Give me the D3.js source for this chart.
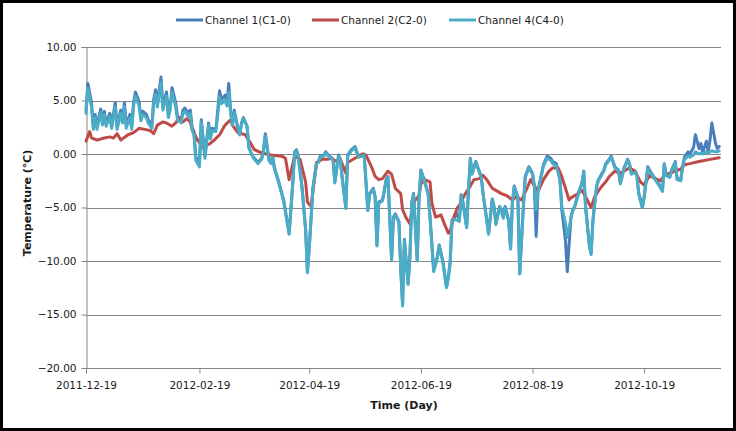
<!DOCTYPE html>
<html>
<head>
<meta charset="utf-8">
<script src="https://cdn.jsdelivr.net/npm/d3@7"></script>
<style>
  body { margin: 0; background: #fff; }
  svg { display: block; font-family: "DejaVu Sans", sans-serif; }
</style>
</head>
<body>
<svg id="chart" width="736" height="431"></svg>
<script>
// days counted from the first date, 2011-12-19
var startDate = "2011-12-19",
    endDate = "2012-11-30";

var seriesNames = ["Channel 1(C1-0)", "Channel 2(C2-0)", "Channel 4(C4-0)"];

var dayBlue = [0,1,3,4,5,6,8,9,10,11,13,14,16,17,19,20,21,22,24,25,26,27,29,30,31,33,34,36,37,38,39,41,42,44,45,46,47,49,50,52,53,54,56,57,58,59,
  60,62,63,65,67,68,69,71,73,74,76,77,78,79,80,81,83,84,85,86,88,89,91,92,94,96,97,98,100,101,102,103,105,108,111,113,114,115,116,118,
  120,121,122,124,126,127,128,130,131,132,133,135,136,138,139,140,142,143,145,147,148,149,151,152,154,155,157,158,159,160,162,163,164,165,
  167,168,169,171,172,173,174,176,177,178,179,181,182,183,185,187,188,189,190,192,193,195,197,198,199,200,201,203,204,205,206,208,209,
  210,211,212,213,214,216,217,218,220,222,223,224,226,227,228,229,231,232,233,234,236,237,239,240,242,244,245,246,247,249,250,252,254,
  255,257,259,260,262,263,265,266,267,269,271,272,273,275,276,277,279,280,281,283,284,285,287,288,289,291,292,294,296,297,298,300,301,
  302,304,305,307,309,311,313,315,316,317,319,320,322,323,325,326,327,329,330,332,333,335,336,337,339,340,341,342,344,345,346];

var channel1 = [4.1,6.6,4.8,2.6,3.7,2.6,4.2,3.0,4.0,2.9,3.8,2.7,4.8,2.6,4.1,3.2,4.8,2.7,3.7,2.6,4.8,5.8,4.9,3.4,4.0,3.7,3.2,2.7,5.1,6.0,4.8,7.2,4.4,5.8,3.7,4.4,6.2,4.8,3.5,3.2,4.1,4.3,3.8,4.1,2.5,2.1,
  -0.3,-0.8,3.2,-0.2,2.9,1.6,2.4,2.3,5.9,5.1,5.5,4.8,6.6,4.1,2.7,4.1,2.4,1.8,2.9,3.4,2.6,0.6,-0.2,-0.4,-0.8,-0.4,0.4,1.9,-0.5,-0.8,-0.2,-1.3,-2.4,-4.3,-7.4,-2.7,0.2,0.4,-0.2,-3.0,
  -7.0,-11.0,-8.7,-3.2,-0.8,-0.7,-0.2,-0.1,0.2,0.0,-0.2,-0.5,-2.6,-0.1,-0.5,-2.2,-5.0,-0.1,0.4,0.7,0.2,-0.2,-0.1,0.0,-5.2,-3.7,-3.2,-4.0,-8.5,-4.5,-4.3,-3.4,-2.4,-2.1,
  -9.8,-5.9,-5.6,-6.3,-10.7,-14.1,-8.0,-12.1,-9.6,-4.5,-3.7,-9.9,-4.0,-1.5,-2.5,-3.7,-5.9,-8.4,-10.9,-9.6,-8.5,-10.0,-12.4,-11.5,-10.1,-6.2,-6.0,-5.6,-6.2,-3.8,-4.5,-6.8,-3.4,
  -0.4,-1.8,-1.2,-0.7,-1.2,-2.1,-3.7,-4.9,-7.4,-4.2,-4.9,-6.5,-4.9,-5.2,-5.9,-4.9,-6.2,-8.8,-4.5,-3.0,-4.0,-11.2,-4.9,-2.1,-1.2,-1.8,-3.0,-7.7,-3.4,-1.8,-1.0,-0.2,-0.4,
  -0.7,-0.9,-2.4,-5.2,-8.1,-11.0,-5.9,-5.2,-4.9,-3.7,-2.7,-1.6,-4.9,-8.4,-9.3,-6.2,-3.0,-2.4,-2.1,-1.5,-0.9,-0.7,-0.2,-0.7,-1.2,-1.5,-2.7,-1.3,-0.5,-0.9,-1.8,-1.6,-1.9,
  -3.6,-5.0,-4.0,-1.2,-1.8,-2.3,-2.8,-3.4,-0.9,-1.9,-2.1,-1.5,-0.7,-2.3,-2.4,-1.2,-0.3,0.2,0.0,0.6,1.8,0.5,1.0,0.1,1.2,0.2,1.3,2.9,1.0,0.5,0.7];

var channel4 = [3.8,6.1,4.4,2.3,3.4,2.3,3.9,2.7,3.7,2.6,3.5,2.4,4.4,2.3,3.8,2.9,4.4,2.4,3.4,2.3,4.5,5.4,4.5,3.1,3.7,3.4,2.9,2.4,4.7,5.6,4.4,6.7,4.1,5.4,3.4,4.1,5.8,4.4,3.2,2.9,3.8,4.0,3.5,3.8,2.2,1.8,
  -0.6,-1.2,3.0,-0.4,2.7,1.4,2.2,2.1,5.3,4.7,5.0,4.5,5.8,3.9,2.7,3.9,2.4,1.8,2.8,3.3,2.6,0.6,-0.2,-0.5,-0.9,-0.5,0.3,1.7,-0.6,-0.9,-0.3,-1.4,-2.5,-4.4,-7.5,-2.8,0.1,0.3,-0.3,-3.1,
  -7.1,-11.1,-8.8,-3.3,-0.9,-0.8,-0.3,-0.2,0.1,-0.1,-0.3,-0.6,-2.7,-0.2,-0.6,-2.3,-5.1,-0.2,0.3,0.6,0.1,-0.3,-0.2,-0.1,-5.3,-3.8,-3.3,-4.1,-8.6,-4.6,-4.4,-3.5,-2.5,-2.2,
  -9.9,-6.0,-5.7,-6.4,-10.8,-14.2,-8.1,-12.2,-9.7,-4.6,-3.8,-10.0,-4.1,-1.6,-2.6,-3.8,-6.0,-8.5,-11.0,-9.7,-8.6,-10.1,-12.5,-11.6,-10.2,-6.3,-6.1,-6.2,-6.3,-3.9,-4.6,-6.9,-3.5,
  -0.5,-1.9,-1.3,-0.8,-1.3,-2.2,-3.8,-5.0,-7.5,-4.3,-5.0,-6.6,-5.0,-5.3,-6.0,-5.0,-6.3,-8.9,-4.6,-3.1,-4.1,-11.2,-5.0,-2.2,-1.3,-1.9,-3.0,-5.2,-3.5,-1.9,-1.1,-0.4,-0.6,
  -0.9,-1.1,-2.4,-4.9,-6.5,-7.8,-6.0,-5.3,-5.0,-3.8,-2.8,-1.7,-5.0,-8.5,-9.4,-6.3,-3.1,-2.5,-2.2,-1.6,-1.0,-0.8,-0.3,-0.8,-1.3,-1.6,-2.8,-1.4,-0.6,-1.0,-1.9,-1.7,-2.0,
  -3.7,-5.0,-4.1,-1.3,-1.9,-2.4,-2.9,-3.5,-1.0,-2.0,-2.2,-1.6,-0.8,-2.4,-2.5,-1.3,-0.5,-0.2,-0.3,-0.1,0.2,0.0,0.1,0.0,0.2,0.1,0.2,0.3,0.2,0.2,0.3];

var dayRed = [0,2,3,6,10,13,15,17,19,23,26,29,32,35,37,39,42,44,47,49,51,53,55,57,58,61,64,68,70,73,76,79,80,83,87,90,92,96,101,107,109,111,114,117,
  120,121,123,124,126,129,132,134,137,139,142,143,147,151,153,156,158,160,162,165,167,169,172,173,175,177,179,182,183,185,188,189,191,194,196,198,199,
  201,203,204,207,210,212,215,217,219,222,224,227,230,233,235,238,241,243,247,250,253,255,258,260,262,264,265,268,271,273,276,278,281,284,286,289,
  292,295,297,300,303,305,308,311,314,316,319,322,325,327,330,335,341,346];

var channel2 = [1.2,2.1,1.5,1.3,1.5,1.6,1.5,1.9,1.3,1.8,2.0,2.4,2.3,2.2,1.9,2.7,3.0,2.9,2.6,2.9,3.4,3.0,3.3,3.0,2.3,1.3,0.6,1.0,1.3,1.8,2.7,3.2,2.7,2.0,1.8,1.0,0.4,0.1,-0.1,-0.2,-0.4,-2.4,-0.2,-0.5,
  -2.6,-4.5,-4.9,-3.5,-0.8,-0.5,-0.5,-0.4,-0.7,-0.5,-1.8,-0.8,-0.4,0.0,-0.1,-1.2,-2.1,-2.4,-2.3,-1.6,-1.9,-3.2,-3.7,-5.2,-6.0,-6.5,-4.5,-3.9,-2.8,-2.4,-2.6,-4.6,-5.9,-5.7,-6.6,-7.4,-7.2,
  -5.9,-5.0,-4.8,-3.8,-3.0,-2.4,-2.3,-2.0,-2.4,-3.2,-3.4,-3.7,-3.9,-4.3,-4.0,-4.3,-3.2,-2.4,-3.5,-2.4,-1.6,-1.3,-1.3,-2.1,-3.2,-4.3,-4.1,-3.8,-3.4,-4.0,-5.0,-4.0,-3.2,-2.6,-2.1,-1.6,
  -1.8,-1.5,-1.3,-1.6,-2.6,-2.9,-2.0,-2.3,-2.5,-2.0,-1.8,-1.6,-1.4,-1.0,-0.9,-0.7,-0.5,-0.35];

var yTicks = [10, 5, 0, -5, -10, -15, -20];
var xTicks = ["2011-12-19", "2012-02-19", "2012-04-19", "2012-06-19", "2012-08-19", "2012-10-19"];

var colors = ["#4a7ebb", "#be4b48", "#4bacc6"];

var parse = d3.timeParse("%Y-%m-%d");
var t0 = parse(startDate);

var svg = d3.select("#chart");

var x = d3.scaleTime()
    .domain([t0, parse(endDate)])
    .range([86, 721]);

var y = d3.scaleLinear()
    .domain([-20, 10])
    .range([368, 47]);

function toPoints(days, vals) {
  return days.map(function(d, i) { return { date: d3.timeDay.offset(t0, d), value: vals[i] }; });
}

var series = [
  { name: seriesNames[0], color: colors[0], values: toPoints(dayBlue, channel1) },
  { name: seriesNames[1], color: colors[1], values: toPoints(dayRed, channel2) },
  { name: seriesNames[2], color: colors[2], values: toPoints(dayBlue, channel4) }
];

// frame
svg.append("rect")
    .attr("x", 1.5).attr("y", 1.5)
    .attr("width", 733).attr("height", 428)
    .attr("fill", "#fff")
    .attr("stroke", "#000")
    .attr("stroke-width", 3);

// gridlines
svg.append("g")
  .selectAll("line")
  .data(yTicks.filter(function(d) { return d !== -20; }))
  .enter().append("line")
    .attr("x1", 86).attr("x2", 721)
    .attr("y1", function(d) { return Math.round(y(d)) + 0.5; })
    .attr("y2", function(d) { return Math.round(y(d)) + 0.5; })
    .attr("stroke", "#868686");

// y axis
var yAxis = svg.append("g")
    .attr("transform", "translate(86.5,0)")
    .call(d3.axisLeft(y).tickValues(yTicks).tickFormat(d3.format(".2f")).tickSize(5).tickPadding(5));

// x axis
var xAxis = svg.append("g")
    .attr("transform", "translate(0,368.5)")
    .call(d3.axisBottom(x).tickValues(xTicks.map(parse)).tickFormat(d3.timeFormat("%Y-%m-%d")).tickSize(5).tickPadding(8).tickSizeOuter(0));

[yAxis, xAxis].forEach(function(a) {
  a.select(".domain").attr("stroke", "#868686");
  a.selectAll(".tick line").attr("stroke", "#868686");
  a.selectAll(".tick text").attr("fill", "#1a1a1a").style("font-size", "10.5px").style("font-family", "DejaVu Sans");
});
xAxis.select(".domain").attr("d", "M86,0H721");

// lines
var line = d3.line()
    .x(function(d) { return x(d.date); })
    .y(function(d) { return y(d.value); });

svg.append("g")
  .selectAll("path")
  .data(series)
  .enter().append("path")
    .attr("d", function(d) { return line(d.values); })
    .attr("fill", "none")
    .attr("stroke", function(d) { return d.color; })
    .attr("stroke-width", 3)
    .attr("stroke-linejoin", "round")
    .attr("stroke-linecap", "round");

// axis titles
svg.append("text")
    .attr("transform", "translate(31,203) rotate(-90)")
    .attr("text-anchor", "middle")
    .style("font-size", "11px")
    .style("font-weight", "bold")
    .attr("fill", "#1a1a1a")
    .text("Temperature (℃)");

svg.append("text")
    .attr("x", 404).attr("y", 409)
    .attr("text-anchor", "middle")
    .style("font-size", "11px")
    .style("font-weight", "bold")
    .attr("fill", "#1a1a1a")
    .text("Time (Day)");

// legend
var legendX = [176, 312, 449];
var legend = svg.append("g")
  .selectAll("g")
  .data(series)
  .enter().append("g")
    .attr("transform", function(d, i) { return "translate(" + legendX[i] + ",20)"; });

legend.append("line")
    .attr("x1", 0).attr("x2", 27)
    .attr("stroke", function(d) { return d.color; })
    .attr("stroke-width", 3);

legend.append("text")
    .attr("x", 29).attr("y", 4)
    .style("font-size", "10.5px")
    .attr("fill", "#1a1a1a")
    .text(function(d) { return d.name; });
</script>
</body>
</html>
